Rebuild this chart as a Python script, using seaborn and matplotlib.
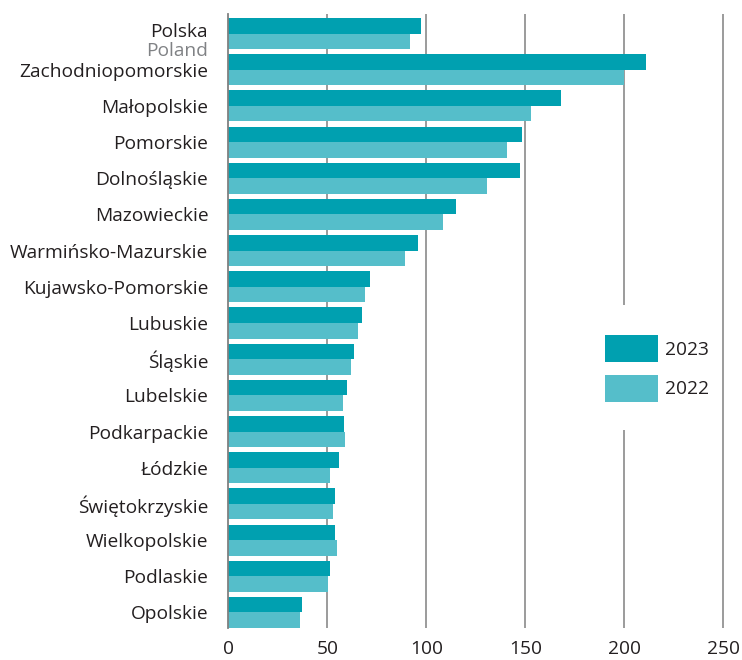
import matplotlib
matplotlib.use("Agg")
import matplotlib.pyplot as plt
import seaborn as sns
import pandas as pd
from matplotlib.patches import Patch, Rectangle

regions = ["Polska", "Zachodniopomorskie", "Małopolskie", "Pomorskie", "Dolnośląskie",
           "Mazowieckie", "Warmińsko-Mazurskie", "Kujawsko-Pomorskie", "Lubuskie",
           "Śląskie", "Lubelskie", "Podkarpackie", "Łódzkie", "Świętokrzyskie",
           "Wielkopolskie", "Podlaskie", "Opolskie"]
values_2023 = [97.3, 211.0, 168.2, 148.5, 147.1, 115.0, 95.6, 71.6, 67.3, 63.6, 59.9,
               58.2, 55.8, 54.1, 54.1, 51.4, 37.3]
values_2022 = [91.7, 200.0, 153.0, 140.9, 130.4, 108.2, 89.0, 69.0, 65.4, 61.9, 57.8,
               58.8, 51.4, 52.8, 55.1, 50.2, 36.2]
years = ["2023", "2022"]
xticks = [0, 50, 100, 150, 200, 250]
english_label = "Poland"

color_2023 = "#00A0B0"
color_2022 = "#55BECA"

df = pd.DataFrame({
    "region": regions * 2,
    "value": values_2023 + values_2022,
    "year": [years[0]] * len(regions) + [years[1]] * len(regions),
})

sns.set_theme(style="white")
plt.rcParams["font.family"] = ["Open Sans", "DejaVu Sans"]

FS = 13.8
W, H = 742, 660
fig = plt.figure(figsize=(W / 100, H / 100), dpi=100)
ax_left, ax_right, ax_top, ax_bottom = 228.4, 742, 14, 628
ax = fig.add_axes([ax_left / W, 1 - ax_bottom / H, (ax_right - ax_left) / W, (ax_bottom - ax_top) / H])

sns.barplot(data=df, y="region", x="value", hue="year", hue_order=years, order=regions,
            orient="h", palette=[color_2023, color_2022], width=0.86, legend=False,
            saturation=1, ax=ax, edgecolor="none", zorder=3)

ax.set_xlim(0, (ax_right - ax_left) / 1.9796)
ax.set_ylim(16.43, -0.54)
ax.set_xticks(xticks)
ax.set_xticklabels([str(t) for t in xticks])
ax.set_xlabel("")
ax.set_ylabel("")

for t in xticks[1:]:
    ax.axvline(t, color="#808080", lw=1.1, zorder=1)

# white background of the legend area, interrupting the gridline behind it
ax.add_patch(Rectangle((590 / W, 1 - 430 / H), 120 / W, 125 / H, transform=fig.transFigure,
                       facecolor="white", edgecolor="none", zorder=2))

for s in ["top", "right", "bottom"]:
    ax.spines[s].set_visible(False)
ax.spines["left"].set_color("#808080")
ax.spines["left"].set_linewidth(1.3)
ax.spines["left"].set_zorder(4)

ax.tick_params(axis="x", length=0, pad=8.5, labelsize=FS, labelcolor="#231F20")
ax.tick_params(axis="y", length=0, pad=14.5, labelsize=FS, labelcolor="#231F20")

labels = [""] + regions[1:]
ax.set_yticks(range(len(regions)))
ax.set_yticklabels(labels)

ax.annotate(regions[0], xy=(0, 0), xycoords=("axes fraction", "data"),
            xytext=(-20.4, -3.0), textcoords="offset pixels", ha="right", va="baseline",
            fontsize=FS, color="#231F20")
ax.annotate(english_label, xy=(0, 0), xycoords=("axes fraction", "data"),
            xytext=(-20.4, -22.0), textcoords="offset pixels", ha="right", va="baseline",
            fontsize=FS, color="#808285")

handles = [Patch(facecolor=color_2023, edgecolor="none"), Patch(facecolor=color_2022, edgecolor="none")]
leg = fig.legend(handles, years, loc="upper left", bbox_to_anchor=(605 / W, 1 - 335 / H),
                 bbox_transform=fig.transFigure, borderaxespad=0, borderpad=0,
                 handlelength=2.75, handleheight=1.786, handletextpad=0.38, labelspacing=0.66,
                 fontsize=FS, frameon=False)
for t in leg.get_texts():
    t.set_color("#231F20")

fig.savefig("out.png", dpi=100)
